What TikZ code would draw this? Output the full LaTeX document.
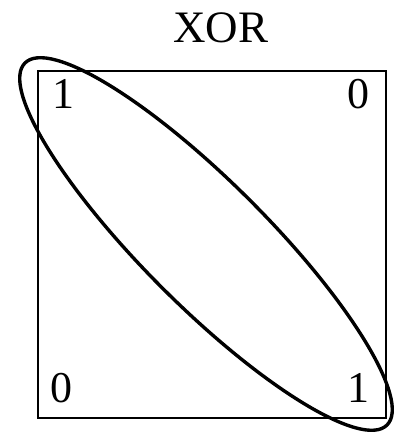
\documentclass[tikz,border=0pt]{standalone}
\usepackage{fontspec}
\setmainfont{Liberation Serif}
\usepackage{tikz}
\usetikzlibrary{positioning}

\begin{document}
\begin{tikzpicture}[
  x=1pt, y=1pt,
  cell/.style={inner sep=0pt, font=\fontsize{44}{50}\selectfont},
  title/.style={inner sep=0pt, font=\fontsize{45}{50}\selectfont}
]
\useasboundingbox (0,0) rectangle (395,436);
\node[title] (t) at (221,408) {XOR};
\draw[line width=1.4pt] (38,18) rectangle (386,365);
\node[cell] (c11) at (63,342) {1};
\node[cell] (c10) at (358,342) {0};
\node[cell] (c00) at (61,48) {0};
\node[cell] (c01) at (358,48) {1};
\draw[line width=3.4pt, rotate around={-45:(206,192)}] (206,192) ellipse [x radius=256, y radius=62];
\end{tikzpicture}
\end{document}
